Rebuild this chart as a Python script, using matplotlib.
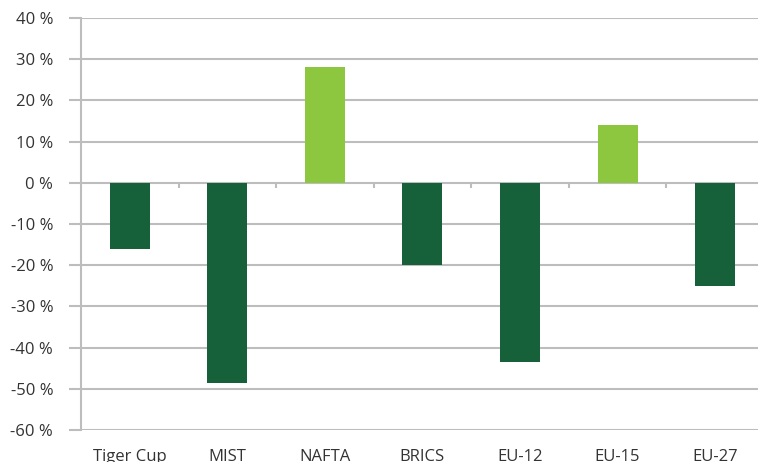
import matplotlib.pyplot as plt
import numpy as np

categories = ['Tiger Cup', 'MIST', 'NAFTA', 'BRICS', 'EU-12', 'EU-15', 'EU-27']
values = [-16, -48.5, 28, -20, -43.5, 14, -25]
yticks = [40, 30, 20, 10, 0, -10, -20, -30, -40, -50, -60]

dark = '#17613a'
light = '#8dc63f'
grey = '#bdbdbd'
txt = '#333333'

plt.rcParams['font.family'] = ['Open Sans', 'DejaVu Sans']

fig = plt.figure(figsize=(7.58, 4.62), dpi=100)
ax = fig.add_axes([81 / 758, 1 - 430 / 462, 1 - 81 / 758, (430 - 18) / 462])

x = np.arange(len(categories))
colors = [light if v > 0 else dark for v in values]
ax.bar(x, values, width=0.41, color=colors, zorder=3)

ax.set_ylim(-60, 40)
ax.set_xlim(-0.5, 6.44)
ax.set_yticks(yticks)
ax.set_yticklabels([f'{t} %' for t in yticks], fontsize=12, color=txt)
ax.yaxis.grid(True, color=grey, linewidth=1.5, zorder=0)
ax.tick_params(axis='y', length=9, width=1.5, color=grey, pad=11)

ax.set_xticks(x)
ax.set_xticklabels(categories, fontsize=12, color=txt)
ax.tick_params(axis='x', length=0, pad=14)

# category separator ticks on the zero line
ax.vlines(x[:-1] + 0.5, -1.3, 0, color=grey, linewidth=1.5, zorder=2)

for s in ['top', 'right', 'bottom']:
    ax.spines[s].set_visible(False)
ax.spines['left'].set_color(grey)
ax.spines['left'].set_linewidth(1.5)

fig.savefig('out.png', dpi=100)
